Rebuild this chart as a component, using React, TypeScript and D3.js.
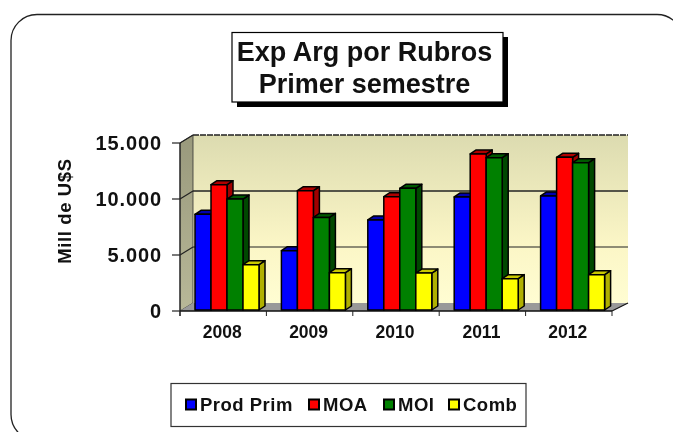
import React from "react";
import * as d3 from "d3";

const years = ["2008", "2009", "2010", "2011", "2012"];
const seriesNames = ["Prod Prim", "MOA", "MOI", "Comb"];
const prodPrim = [8540, 5300, 8040, 10090, 10180];
const moa = [11190, 10650, 10120, 13930, 13630];
const moi = [9910, 8270, 10870, 13600, 13150];
const comb = [4050, 3330, 3300, 2800, 3150];
const seriesValues = [prodPrim, moa, moi, comb];
const yTicks = [0, 5000, 10000, 15000];
const tickLabels = ["0", "5.000", "10.000", "15.000"];
const front = ["#0000ff", "#ff0000", "#008000", "#ffff00"];
const top = ["#0000b0", "#b00000", "#005a00", "#c8c800"];
const side = ["#000090", "#a00000", "#004800", "#b0b000"];

const F = "'Liberation Sans', Arial, sans-serif";
const DX = 13, DY = -8, dx = 6, dy = -4;

export default function App() {
  const y = d3.scaleLinear().domain([0, 15000]).range([311, 143]);
  const x = d3.scaleBand<string>().domain(years).range([180, 612]);
  const barW = 16;
  const barBase = 310;
  const barY = d3.scaleLinear().domain([0, 15000]).range([barBase, barBase - 168]);
  const x0 = x.range()[0], x1 = x.range()[1];
  return (
    <svg width={673} height={432} style={{ position: "absolute", left: 0, top: 0, background: "#fff", filter: "blur(0.45px)" }}>
      <defs>
        <linearGradient id="wall" x1="0" x2="0" y1="0" y2="1">
          <stop offset="0" stopColor="#dcdbb0" />
          <stop offset="0.65" stopColor="#fbf6c6" />
          <stop offset="1" stopColor="#fffdd2" />
        </linearGradient>
        <linearGradient id="lwall" x1="0" x2="0" y1="0" y2="1">
          <stop offset="0" stopColor="#99997c" />
          <stop offset="1" stopColor="#b8b898" />
        </linearGradient>
      </defs>
      <rect x={11} y={14.5} width={672} height={426} rx={26} ry={26} fill="#fff" stroke="#222" strokeWidth={1.3} />

      {/* title */}
      <rect x={237} y={37} width={271} height={70} fill="#000" />
      <rect x={232} y={32.5} width={271} height={69.5} fill="#fff" stroke="#000" strokeWidth={1.2} />
      <text x={364.5} y={60.5} textAnchor="middle" fontFamily={F} fontWeight="bold" fontSize={27} fill="#111">Exp Arg por Rubros</text>
      <text x={364.5} y={93} textAnchor="middle" fontFamily={F} fontWeight="bold" fontSize={27} fill="#111">Primer semestre</text>

      {/* walls */}
      <rect x={x0 + DX} y={y(15000) + DY} width={x1 - x0 + 3} height={y(0) - y(15000)} fill="url(#wall)" />
      <polygon points={`${x0},${y(15000)} ${x0 + DX},${y(15000) + DY} ${x0 + DX},${y(0) + DY} ${x0},${y(0)}`} fill="url(#lwall)" stroke="#333" strokeWidth={0.8} />
      <polygon points={`${x0},${y(0)} ${x0 + DX},${y(0) + DY} ${x1 + DX + 3},${y(0) + DY} ${x1},${y(0)}`} fill="#999999" />
      <line x1={x0} x2={x1} y1={y(0)} y2={y(0)} stroke="#111" strokeWidth={1.4} />
      <line x1={x1} x2={x1 + DX + 3} y1={y(0)} y2={y(0) + DY} stroke="#111" strokeWidth={1.2} />
      <line x1={x0} x2={x0} y1={y(15000)} y2={y(0) + 5} stroke="#222" strokeWidth={1.2} />

      {yTicks.slice(1).map((t) => (
        <g key={t}>
          <line x1={x0} x2={x0 + DX} y1={y(t)} y2={y(t) + DY} stroke="#222" strokeWidth={1.2} />
          <line x1={x0 + DX} x2={x1 + DX + 3} y1={y(t) + DY} y2={y(t) + DY} stroke="#222" strokeWidth={t === 5000 ? 1.2 : 1.6} strokeDasharray={t === 15000 ? "6 1" : undefined} />
        </g>
      ))}
      {yTicks.map((t, i) => (
        <g key={t}>
          <line x1={x0 - 8} x2={x0} y1={y(t)} y2={y(t)} stroke="#222" strokeWidth={1.2} />
          <text x={162} y={y(t) + 6.5} textAnchor="end" fontFamily={F} fontWeight="bold" fontSize={20} letterSpacing={0.9} fill="#111">{tickLabels[i]}</text>
        </g>
      ))}
      <text transform="translate(71,211) rotate(-90)" textAnchor="middle" fontFamily={F} fontWeight="bold" fontSize={18.5} letterSpacing={0.6} fill="#111">Mill de U$S</text>

      {/* x ticks */}
      {[...years.map((d) => x(d) as number), x1].map((v, i) => (
        <line key={i} x1={v} x2={v} y1={y(0)} y2={y(0) + 5} stroke="#222" strokeWidth={1} />
      ))}
      {years.map((d) => (
        <text key={d} x={(x(d) as number) + x.bandwidth() / 2 - 1} y={338} textAnchor="middle" fontFamily={F} fontWeight="bold" fontSize={17.5} fill="#111">{d}</text>
      ))}

      {/* bars */}
      {years.map((d, i) => {
        const start = (x(d) as number) + 15;
        return (
          <g key={d}>
            {seriesValues.map((vals, s) => {
              const bx = start + s * barW;
              const ty = barY(vals[i]);
              return (
                <g key={s} stroke="#000" strokeWidth={1.5} strokeLinejoin="round">
                  <polygon points={`${bx + barW},${ty} ${bx + barW + dx},${ty + dy} ${bx + barW + dx},${barBase + dy} ${bx + barW},${barBase}`} fill={side[s]} />
                  <polygon points={`${bx},${ty} ${bx + dx},${ty + dy} ${bx + barW + dx},${ty + dy} ${bx + barW},${ty}`} fill={top[s]} />
                  <rect x={bx} y={ty} width={barW} height={barBase - ty} fill={front[s]} />
                </g>
              );
            })}
          </g>
        );
      })}

      {/* legend */}
      <rect x={171} y={383.5} width={355} height={43} fill="#fff" stroke="#333" strokeWidth={1.2} />
      {seriesNames.map((n, s) => {
        const lx = [185, 308, 383, 448][s];
        return (
          <g key={n}>
            <rect x={lx + 1} y={399.5} width={10} height={10} fill={front[s]} stroke="#000" strokeWidth={2} />
            <text x={lx + 15} y={411} fontFamily={F} fontWeight="bold" fontSize={18.5} letterSpacing={0.5} fill="#111">{n}</text>
          </g>
        );
      })}
    </svg>
  );
}
